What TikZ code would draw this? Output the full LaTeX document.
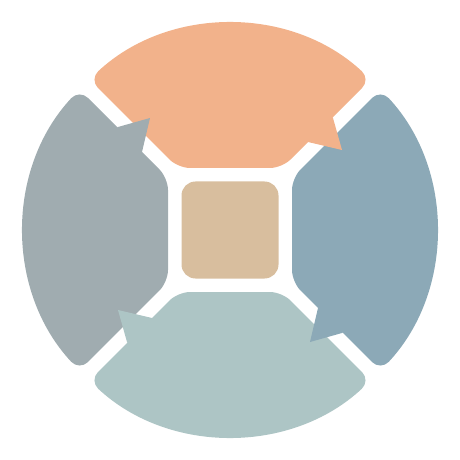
\documentclass[tikz,border=0pt]{standalone}
\definecolor{segorange}{HTML}{F2B28B}
\definecolor{segblue}{HTML}{8CA9B7}
\definecolor{segteal}{HTML}{ADC5C5}
\definecolor{seggray}{HTML}{A0ACB0}
\definecolor{centertan}{HTML}{D8BE9E}
\tikzset{
  segbody/.pic={\fill[pic actions, rounded corners=12pt] (-52,62) -- (52,62) -- (140.58,150.58) arc[start angle=46.97,end angle=133.03,radius=206] -- cycle;},
  segtab/.pic={\fill[pic actions] (75,91) -- (78,88) -- (112,80) -- (103,112) -- (100,115) -- cycle;},
  centerbox/.style={fill=centertan, rounded corners=14pt, minimum size=97pt, inner sep=0pt, draw=none}
}
\begin{document}
\begin{tikzpicture}[x=1pt,y=1pt]
\useasboundingbox (-230,-230) rectangle (230,230);
% bodies
\pic[fill=segorange] {segbody};
\pic[fill=segblue, rotate=-90] {segbody};
\pic[fill=segteal, rotate=-180] {segbody};
\pic[fill=seggray, rotate=-270] {segbody};
% arrow tabs (drawn over the neighbouring segment)
\pic[fill=segorange] {segtab};
\pic[fill=segblue, rotate=-90] {segtab};
\pic[fill=segteal, rotate=-180] {segtab};
\pic[fill=seggray, rotate=-270] {segtab};
\node[centerbox] (center) at (0,0) {};
\end{tikzpicture}
\end{document}
